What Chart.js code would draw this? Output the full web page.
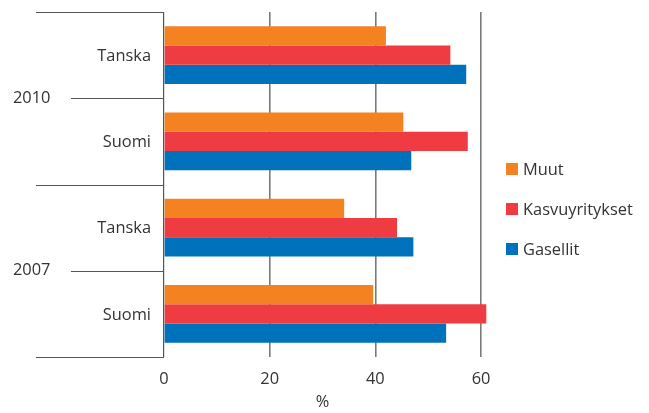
<!DOCTYPE html>
<html>
<head>
<meta charset="utf-8">
<script src="https://cdn.jsdelivr.net/npm/chart.js@4"></script>
<style>
  html, body { margin: 0; padding: 0; background: #fff; }
  #wrap { width: 649px; height: 413px; position: relative; }
</style>
</head>
<body>
<div id="wrap"><canvas id="c" width="649" height="413"></canvas></div>
<script>
// Categories, top to bottom
const countries = ['Tanska', 'Suomi', 'Tanska', 'Suomi'];
const years = ['2010', '2007'];          // each year spans two countries
const seriesNames = ['Muut', 'Kasvuyritykset', 'Gasellit'];
const seriesColors = ['#F58220', '#EF3B42', '#0071BB'];

// Shares, %
const muut = [42.0, 45.3, 34.1, 39.6];
const kasvuyritykset = [54.2, 57.5, 44.1, 61.0];
const gasellit = [57.2, 46.8, 47.2, 53.4];

const xTicks = [0, 20, 40, 60];
const xTitle = '%';

const FONT = '"Open Sans", "DejaVu Sans", sans-serif';
const FONT_SIZE = 16.4;
const TEXT = '#333333';

// Left-hand label block: country names, year names and separator lines; legend on the right
const leftLabels = {
  id: 'leftLabels',
  afterDraw(chart) {
    const { ctx, chartArea } = chart;
    const y = chart.scales.y;
    const n = countries.length;
    const centers = countries.map((_, i) => y.getPixelForValue(i));
    const half = (centers[1] - centers[0]) / 2;
    const bounds = [];
    for (let i = 0; i <= n; i++) bounds.push(i < n ? centers[i] - half : centers[n - 1] + half);

    ctx.save();
    ctx.strokeStyle = '#555555';
    ctx.lineWidth = 1.2;
    bounds.forEach((b, i) => {
      const xs = (i % 2 === 0) ? 36 : 71;
      const yy = Math.round(b) + 0.5;
      ctx.beginPath();
      ctx.moveTo(xs, yy);
      ctx.lineTo(chartArea.left, yy);
      ctx.stroke();
    });

    ctx.fillStyle = TEXT;
    ctx.font = FONT_SIZE + 'px ' + FONT;
    ctx.textBaseline = 'middle';
    ctx.textAlign = 'right';
    countries.forEach((c, i) => ctx.fillText(c, 151, centers[i] + 1));
    ctx.textAlign = 'left';
    years.forEach((yr, k) => ctx.fillText(yr, 13, bounds[2 * k + 1]));

    // legend
    seriesNames.forEach((s, k) => {
      const cy = 169 + k * 40;
      ctx.fillStyle = seriesColors[k];
      ctx.fillRect(506, cy - 6, 12, 12);
      ctx.fillStyle = TEXT;
      ctx.fillText(s, 523, cy + 1);
    });
    ctx.restore();
  }
};

new Chart(document.getElementById('c'), {
  type: 'bar',
  data: {
    labels: countries,
    datasets: [
      { label: seriesNames[0], data: muut, backgroundColor: seriesColors[0], clip: false },
      { label: seriesNames[1], data: kasvuyritykset, backgroundColor: seriesColors[1], clip: false },
      { label: seriesNames[2], data: gasellit, backgroundColor: seriesColors[2], clip: false }
    ]
  },
  options: {
    indexAxis: 'y',
    responsive: false,
    animation: false,
    devicePixelRatio: 1,
    layout: { padding: { left: 164, right: 168, top: 12, bottom: 0 } },
    categoryPercentage: 0.672,
    barPercentage: 1.0,
    plugins: { legend: { display: false }, tooltip: { enabled: false } },
    scales: {
      y: { display: false },
      x: {
        min: 0,
        max: 60,
        afterBuildTicks(scale) { scale.ticks = xTicks.map(v => ({ value: v })); },
        afterFit(scale) { scale.height = 56; },
        border: { display: false },
        grid: {
          drawTicks: false,
          color: (c) => c.tick && c.tick.value === 0 ? '#555555' : '#7a7a7a',
          lineWidth: (c) => c.tick && c.tick.value === 0 ? 1.2 : 1.6
        },
        ticks: {
          padding: 12,
          color: TEXT,
          font: { family: FONT, size: FONT_SIZE }
        },
        title: {
          display: true,
          text: xTitle,
          color: TEXT,
          font: { family: FONT, size: FONT_SIZE },
          padding: { top: 0, bottom: 1 }
        }
      }
    }
  },
  plugins: [leftLabels]
});
</script>
</body>
</html>
